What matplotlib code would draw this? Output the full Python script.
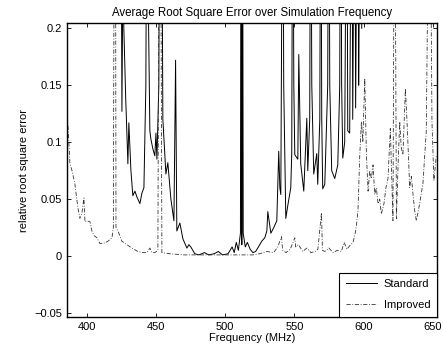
import matplotlib
matplotlib.use("Agg")
import matplotlib.pyplot as plt

plt.rcParams['font.family'] = ['Liberation Sans', 'DejaVu Sans']

# Standard method (solid line)
freq_std = [422.0, 423.8, 424.6, 425.3, 426.0, 426.7, 428.0, 429.6, 430.3, 431.8, 433.2, 434.7, 436.1,
            438.3, 439.7, 441.2, 442.6, 443.4, 444.1, 445.5, 446.2, 447.7, 449.1, 449.9, 450.6,
            452.0, 452.7, 454.2, 454.9, 457.1, 458.5, 460.7, 462.9, 464.1, 465.0, 467.2, 469.4,
            472.3, 473.7, 475.1, 478.0, 481.0, 485.0, 488.0, 492.0, 495.0, 498.0, 502.0, 505.0,
            506.5, 508.0, 509.5, 511.0, 511.6, 512.0, 512.4, 513.0, 514.5, 516.0, 518.0, 520.0,
            522.0, 524.0, 526.4, 528.6, 530.1, 530.8, 533.0, 535.1, 537.3, 538.7, 539.5, 540.2,
            541.6, 542.3, 543.8, 545.2, 547.4, 548.1, 548.8, 549.6, 550.3, 552.5, 553.2, 554.6,
            556.8, 559.0, 559.7, 561.1, 561.8, 562.6, 564.0, 566.2, 566.9, 568.4, 569.1, 569.8,
            570.5, 572.0, 574.1, 574.9, 575.6, 577.0, 579.2, 581.4, 582.8, 583.5, 584.2, 585.0,
            586.4, 587.9, 588.6, 590.0, 591.5, 592.2, 593.6, 594.3, 595.8, 596.5, 598.0, 598.7]
err_std = [0.6, 0.5, 0.35, 0.127, 0.25, 0.199, 0.14, 0.081, 0.117, 0.075, 0.053, 0.057, 0.052,
           0.046, 0.055, 0.060, 0.15, 0.4, 0.25, 0.11, 0.103, 0.094, 0.088, 0.108, 0.085,
           0.15, 0.4, 0.3, 0.12, 0.072, 0.082, 0.050, 0.031, 0.172, 0.022, 0.029, 0.015,
           0.007, 0.010, 0.008, 0.002, 0.001, 0.003, 0.001, 0.002, 0.004, 0.001, 0.002, 0.008,
           0.003, 0.012, 0.005, 0.020, 0.5, 0.01, 0.5, 0.020, 0.008, 0.012, 0.006, 0.003,
           0.004, 0.008, 0.013, 0.016, 0.022, 0.039, 0.020, 0.025, 0.031, 0.092, 0.060, 0.054,
           0.4, 0.15, 0.033, 0.044, 0.060, 0.090, 0.4, 0.15, 0.089, 0.085, 0.177, 0.081,
           0.057, 0.121, 0.075, 0.12, 0.4, 0.15, 0.072, 0.090, 0.063, 0.12, 0.4, 0.12,
           0.059, 0.063, 0.15, 0.4, 0.15, 0.075, 0.068, 0.080, 0.15, 0.4, 0.15, 0.086,
           0.100, 0.4, 0.110, 0.108, 0.4, 0.12, 0.4, 0.13, 0.4, 0.15, 0.4, 0.200]

# Improved method (dash-dot line)
freq_imp = [385.5, 386.5, 387.7, 389.2, 391.3, 393.5, 394.9, 396.4, 397.8, 398.6, 400.0, 402.2,
            403.6, 405.1, 407.2, 409.4, 411.6, 413.7, 415.2, 418.1, 419.1, 419.9, 420.6, 421.0,
            422.4, 423.1, 425.3, 428.9, 432.5, 436.8, 440.5, 443.4, 445.5, 447.0, 449.1, 451.3,
            452.4, 453.1, 454.2, 460.0, 470.0, 480.0, 490.0, 500.0, 510.0, 520.0, 525.0, 530.0,
            535.0, 538.0, 540.7, 541.5, 544.0, 547.0, 550.3, 551.0, 553.0, 556.0, 559.0, 562.0,
            565.0, 567.0, 569.6, 570.3, 572.0, 575.0, 578.0, 581.0, 584.0, 586.0, 588.0, 590.0,
            592.4, 594.0, 595.0, 596.0, 597.3, 598.5, 599.5, 600.9, 602.1, 603.3, 604.5, 605.7,
            606.9, 608.1, 609.3, 610.5, 611.7, 612.9, 614.8, 616.2, 617.7, 619.4, 621.3, 622.5,
            623.8, 625.0, 626.2, 627.3, 628.5, 630.3, 631.7, 633.4, 634.6, 635.8, 637.0, 638.2,
            640.6, 643.0, 645.4, 647.8, 649.5, 650.9, 652.0, 652.7]
err_imp = [0.129, 0.11, 0.081, 0.075, 0.063, 0.042, 0.033, 0.038, 0.051, 0.030, 0.031, 0.030,
           0.022, 0.018, 0.016, 0.011, 0.011, 0.012, 0.013, 0.016, 0.025, 0.4, 0.4, 0.025,
           0.022, 0.020, 0.013, 0.010, 0.007, 0.004, 0.003, 0.003, 0.007, 0.003, 0.003, 0.005,
           0.4, 0.4, 0.003, 0.002, 0.001, 0.001, 0.001, 0.001, 0.001, 0.001, 0.002, 0.004,
           0.003, 0.008, 0.017, 0.005, 0.003, 0.006, 0.016, 0.008, 0.010, 0.004, 0.007, 0.003,
           0.004, 0.006, 0.038, 0.005, 0.004, 0.007, 0.003, 0.005, 0.004, 0.012, 0.006, 0.009,
           0.012, 0.020, 0.028, 0.040, 0.089, 0.118, 0.100, 0.156, 0.089, 0.057, 0.075, 0.068,
           0.080, 0.054, 0.060, 0.046, 0.050, 0.037, 0.046, 0.060, 0.068, 0.112, 0.031, 0.4,
           0.033, 0.080, 0.118, 0.095, 0.089, 0.147, 0.112, 0.060, 0.070, 0.054, 0.040, 0.031,
           0.046, 0.064, 0.110, 0.4, 0.118, 0.066, 0.080, 0.089]

fig = plt.figure(figsize=(4.43, 3.51), dpi=100)
ax = fig.add_axes([0.151, 0.097, 0.835, 0.837])

ax.plot(freq_std, err_std, color="black", linewidth=0.7, linestyle="-", label="Standard")
ax.plot(freq_imp, err_imp, color="#333333", linewidth=0.6, linestyle=(0, (5, 2, 1, 2)), label="Improved")

ax.set_xlim(385.5, 653)
ax.set_ylim(-0.0535, 0.2045)
ax.set_xticks([400, 450, 500, 550, 600, 650])
ax.set_yticks([-0.05, 0, 0.05, 0.1, 0.15, 0.2])
ax.set_yticklabels(["\u22120.05", "0", "0.05", "0.1", "0.15", "0.2"])
ax.tick_params(direction="in", top=True, right=True, labelsize=8, length=3, width=0.6)
for s in ax.spines.values():
    s.set_linewidth(1.0)

ax.set_title("Average Root Square Error over Simulation Frequency", fontsize=8.3, pad=5)
ax.set_xlabel("Frequency (MHz)", fontsize=8, labelpad=1)
ax.set_ylabel("relative root square error", fontsize=8, labelpad=4)

leg = ax.legend(loc="lower right", fontsize=8, frameon=True, fancybox=False, borderaxespad=0,
                handlelength=2.8, handletextpad=0.6, edgecolor="black", framealpha=1,
                borderpad=0.6, labelspacing=1.0)
leg.get_frame().set_linewidth(0.8)

fig.savefig("out.png", dpi=100)
